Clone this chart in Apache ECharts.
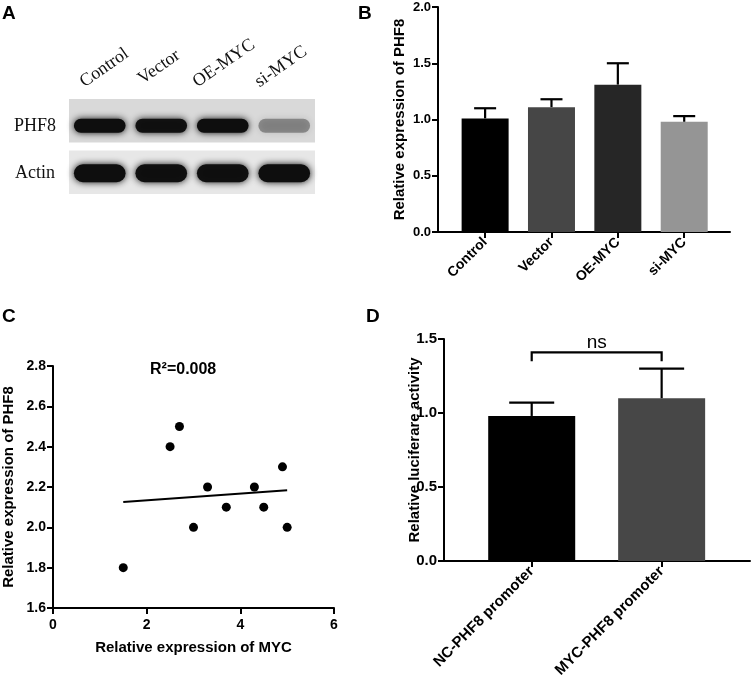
<!DOCTYPE html>
<html><head><meta charset="utf-8">
<script src="https://cdn.jsdelivr.net/npm/echarts@6/dist/echarts.min.js"></script>
<style>html,body{margin:0;padding:0;background:#fff}#c{width:751px;height:681px}</style>
</head><body><div id="c"></div>
<script>
// ---------- Panel A: western blot ----------
const blotLanes = ['Control', 'Vector', 'OE-MYC', 'si-MYC'];
const blotRows = ['PHF8', 'Actin'];
const phf8Band = [1.0, 0.97, 1.0, 0.36];
const actinBand = [1.0, 0.98, 0.98, 1.0];
// ---------- Panel B ----------
const bCats = ['Control', 'Vector', 'OE-MYC', 'si-MYC'];
const bMeans = [1.01, 1.11, 1.31, 0.98];
const bErr = [0.09, 0.07, 0.19, 0.05];
const bColors = ['#000000', '#464646', '#262626', '#959595'];
// ---------- Panel C ----------
const cMYC = [1.5, 2.5, 2.7, 3.0, 3.3, 3.7, 4.3, 4.5, 4.9, 5.0];
const cPHF8 = [1.8, 2.4, 2.5, 2.0, 2.2, 2.1, 2.2, 2.1, 2.3, 2.0];
const cFitX = [1.5, 5.0];
const cFitY = [2.126, 2.184];
const cR2 = 'R\u00B2=0.008';
// ---------- Panel D ----------
const dCats = ['NC-PHF8 promoter', 'MYC-PHF8 promoter'];
const dMeans = [0.98, 1.10];
const dErr = [0.09, 0.20];
const dColors = ['#000000', '#474747'];
const dSigLabel = 'ns';
const dSigY = 1.41;
const dSigLeg = 0.06;

const SANS = '"Liberation Sans", Arial, sans-serif';
const SERIF = '"Liberation Serif", "Times New Roman", serif';

const chart = echarts.init(document.getElementById('c'), null, {renderer: 'canvas'});

function valueAxisY(gi, min, max, interval, name, nameGap, labelSize, nameSize) {
  return {
    type: 'value', gridIndex: gi, min: min, max: max, interval: interval,
    axisLine: {show: true, onZero: false, lineStyle: {color: '#000', width: 2}},
    axisTick: {show: true, length: 6, lineStyle: {color: '#000', width: 2}},
    axisLabel: {color: '#000', fontFamily: SANS, fontWeight: 'bold', fontSize: labelSize, margin: 7,
      formatter: v => v.toFixed(1)},
    splitLine: {show: false},
    name: name, nameLocation: 'middle', nameGap: nameGap, nameRotate: 90, nameMoveOverlap: false,
    nameTextStyle: {color: '#000', fontFamily: SANS, fontWeight: 'bold', fontSize: nameSize}
  };
}
function catValueAxisX(gi, min, max, cats, labelSize) {
  const vals = cats.map((c, i) => i);
  return {
    type: 'value', gridIndex: gi, min: min, max: max,
    axisLine: {show: true, onZero: false, lineStyle: {color: '#000', width: 2}},
    axisTick: {show: true, customValues: vals, length: 6, lineStyle: {color: '#000', width: 2}},
    axisLabel: {customValues: vals, formatter: v => cats[Math.round(v)] || '', rotate: 45,
      color: '#000', fontFamily: SANS, fontWeight: 'bold', fontSize: labelSize, margin: 8},
    splitLine: {show: false}
  };
}
function errorSeries(xi, yi, means, errs, capW) {
  return {
    type: 'custom', xAxisIndex: xi, yAxisIndex: yi, z: 5, silent: true,
    data: means.map((m, i) => [i, m, m + errs[i]]),
    renderItem: function (params, api) {
      const p0 = api.coord([api.value(0), api.value(1)]);
      const p1 = api.coord([api.value(0), api.value(2)]);
      const st = {stroke: '#000', lineWidth: 2.2};
      return {type: 'group', children: [
        {type: 'line', shape: {x1: p0[0], y1: p0[1], x2: p1[0], y2: p1[1]}, style: st},
        {type: 'line', shape: {x1: p1[0] - capW / 2, y1: p1[1], x2: p1[0] + capW / 2, y2: p1[1]}, style: st}
      ]};
    }
  };
}

const blotData = [];
phf8Band.forEach((v, i) => blotData.push([i, 0, v]));
actinBand.forEach((v, i) => blotData.push([i, 1, v]));

const laneLabelRot = 35 * Math.PI / 180;

const option = {
  animation: false,
  backgroundColor: '#fff',
  grid: [
    {left: 69, top: 99, width: 246, height: 95},      // A blot
    {left: 438, top: 7, width: 292, height: 225},     // B
    {left: 50, top: 366, width: 284, height: 242},    // C
    {left: 444, top: 339, width: 306, height: 222}    // D
  ],
  xAxis: [
    {type: 'category', gridIndex: 0, data: blotLanes, show: false},
    catValueAxisX(1, -0.71, 3.69, bCats, 14),
    {type: 'value', gridIndex: 2, min: 0, max: 6, interval: 2,
      axisLine: {show: true, onZero: false, lineStyle: {color: '#000', width: 2}},
      axisTick: {show: true, length: 6, lineStyle: {color: '#000', width: 2}},
      axisLabel: {color: '#000', fontFamily: SANS, fontWeight: 'bold', fontSize: 14, margin: 10},
      splitLine: {show: false},
      name: 'Relative expression of MYC', nameLocation: 'middle', nameGap: 32, nameMoveOverlap: false,
      nameTextStyle: {color: '#000', fontFamily: SANS, fontWeight: 'bold', fontSize: 15}},
    catValueAxisX(3, -0.675, 1.68, dCats, 15)
  ],
  yAxis: [
    {type: 'category', gridIndex: 0, data: blotRows, inverse: true, show: false},
    valueAxisY(1, 0, 2, 0.5, 'Relative expression of PHF8', 31, 13, 15),
    valueAxisY(2, 1.6, 2.8, 0.2, 'Relative expression of PHF8', 37, 14, 15),
    valueAxisY(3, 0, 1.5, 0.5, 'Relative luciferare activity', 22, 15, 15)
  ],
  series: [
    // A: blot panel backgrounds
    {
      type: 'custom', xAxisIndex: 0, yAxisIndex: 0, silent: true, z: 1,
      data: blotRows.map((r, i) => [0, i]),
      renderItem: function (params, api) {
        const cs = params.coordSys;
        const c = api.coord([0, api.value(1)]);
        const h = api.size([1, 1])[1];
        const row = api.value(1);
        return {type: 'rect', shape: {x: cs.x, y: c[1] - h / 2 + (row === 0 ? 0 : 4), width: cs.width, height: h - 4},
          style: {fill: row === 0 ? '#d9d9d9' : '#e7e7e7'}};
      }
    },
    // A: bands
    {
      type: 'custom', xAxisIndex: 0, yAxisIndex: 0, silent: true, z: 2,
      data: blotData,
      renderItem: function (params, api) {
        const c = api.coord([api.value(0), api.value(1)]);
        const sz = api.size([1, 1]);
        const row = api.value(1);
        const a = api.value(2);
        const w = sz[0] * 0.84;
        const h = row === 0 ? 14 : 18;
        const col = 'rgba(14,14,14,' + a + ')';
        return {type: 'rect', shape: {x: c[0] - w / 2, y: c[1] - h / 2 + 3, width: w, height: h, r: h / 2},
          style: {fill: col, shadowBlur: 7, shadowColor: col}};
      }
    },
    // B bars
    {
      type: 'bar', xAxisIndex: 1, yAxisIndex: 1, barWidth: 47, z: 2,
      data: bMeans.map((v, i) => ({value: [i, v], itemStyle: {color: bColors[i]}}))
    },
    errorSeries(1, 1, bMeans, bErr, 22),
    // C scatter
    {
      type: 'scatter', xAxisIndex: 2, yAxisIndex: 2, symbolSize: 9, itemStyle: {color: '#000', opacity: 1}, z: 3,
      data: cMYC.map((x, i) => [x, cPHF8[i]])
    },
    {
      type: 'line', xAxisIndex: 2, yAxisIndex: 2, showSymbol: false, symbol: 'none',
      lineStyle: {color: '#000', width: 2},
      data: cFitX.map((x, i) => [x, cFitY[i]])
    },
    // D bars
    {
      type: 'bar', xAxisIndex: 3, yAxisIndex: 3, barWidth: 87, z: 2,
      data: dMeans.map((v, i) => ({value: [i, v], itemStyle: {color: dColors[i]}}))
    },
    errorSeries(3, 3, dMeans, dErr, 45),
    // D significance bracket
    {
      type: 'custom', xAxisIndex: 3, yAxisIndex: 3, silent: true, z: 6,
      data: [[0, 1, dSigY, dSigY - dSigLeg]],
      renderItem: function (params, api) {
        const a = api.coord([api.value(0), api.value(2)]);
        const b = api.coord([api.value(1), api.value(2)]);
        const al = api.coord([api.value(0), api.value(3)]);
        const bl = api.coord([api.value(1), api.value(3)]);
        return {type: 'group', children: [
          {type: 'polyline', shape: {points: [al, a, b, bl]}, style: {stroke: '#000', lineWidth: 2.2, fill: null}},
          {type: 'text', x: (a[0] + b[0]) / 2, y: a[1] - 10,
            style: {text: dSigLabel, font: '19px ' + SANS, fill: '#000', align: 'center', verticalAlign: 'middle'}}
        ]};
      }
    }
  ],
  graphic: [
    {type: 'text', left: 2, top: 4, style: {text: 'A', font: 'bold 19px ' + SANS, fill: '#000'}},
    {type: 'text', left: 358, top: 4, style: {text: 'B', font: 'bold 19px ' + SANS, fill: '#000'}},
    {type: 'text', left: 2, top: 307, style: {text: 'C', font: 'bold 19px ' + SANS, fill: '#000'}},
    {type: 'text', left: 366, top: 307, style: {text: 'D', font: 'bold 19px ' + SANS, fill: '#000'}},
    {type: 'text', left: 150, top: 362, style: {text: cR2, font: 'bold 16px ' + SANS, fill: '#000'}},
    {type: 'text', x: 14, y: 126, style: {text: blotRows[0], font: '18px ' + SERIF, fill: '#111', verticalAlign: 'middle'}},
    {type: 'text', x: 15, y: 173, style: {text: blotRows[1], font: '18px ' + SERIF, fill: '#111', verticalAlign: 'middle'}},
    {type: 'text', x: 87, y: 91, rotation: laneLabelRot, style: {text: blotLanes[0], font: '18px ' + SERIF, fill: '#111', align: 'left', verticalAlign: 'bottom'}},
    {type: 'text', x: 145, y: 88, rotation: laneLabelRot, style: {text: blotLanes[1], font: '18px ' + SERIF, fill: '#111', align: 'left', verticalAlign: 'bottom'}},
    {type: 'text', x: 200, y: 91, rotation: laneLabelRot, style: {text: blotLanes[2], font: '18px ' + SERIF, fill: '#111', align: 'left', verticalAlign: 'bottom'}},
    {type: 'text', x: 262, y: 91, rotation: laneLabelRot, style: {text: blotLanes[3], font: '18px ' + SERIF, fill: '#111', align: 'left', verticalAlign: 'bottom'}}
  ]
};
chart.setOption(option);
</script>
</body></html>
